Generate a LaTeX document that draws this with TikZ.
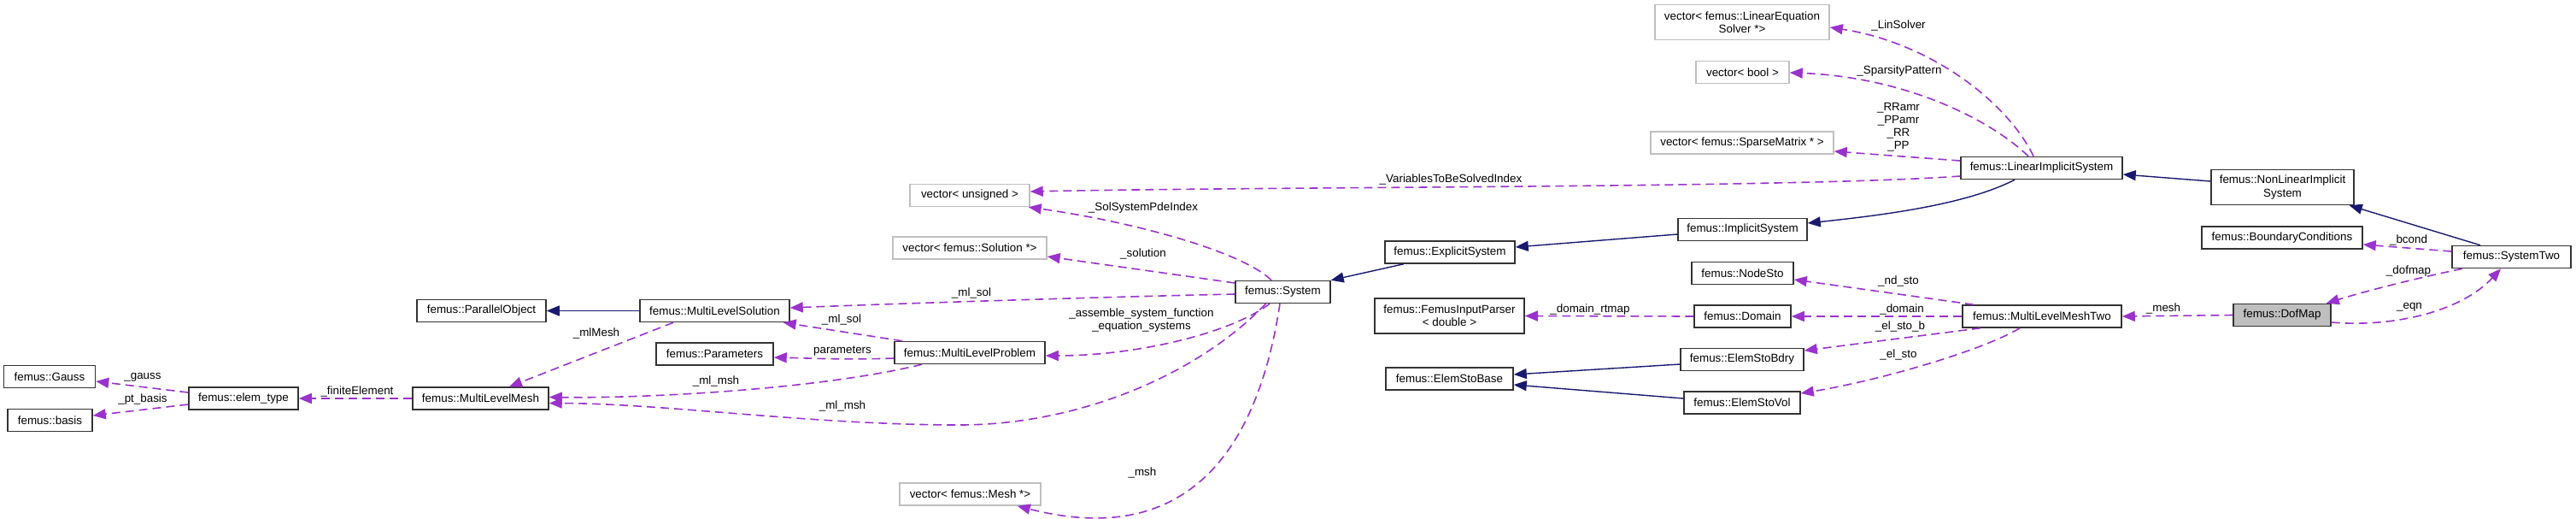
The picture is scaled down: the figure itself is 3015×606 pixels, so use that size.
\documentclass[tikz,border=0pt]{standalone}
\usepackage{fontspec}
\setmainfont{Liberation Sans}
\usetikzlibrary{arrows.meta}
\definecolor{usecol}{RGB}{154,50,205}
\definecolor{inhcol}{RGB}{25,25,112}
\definecolor{tplgray}{RGB}{191,191,191}
\begin{document}
\begin{tikzpicture}[x=1pt,y=-1pt,
  font=\fontsize{13.4}{15.2}\selectfont,
  cls/.style={draw=black!80, line width=1.5pt, fill=white, inner sep=0pt, minimum height=26pt, align=center},
  tpl/.style={cls, draw=tplgray},
  sel/.style={cls, fill=tplgray},
  usel/.style={draw=usecol, line width=1.6pt, dash pattern=on 10pt off 6pt, -{Triangle[length=15pt,width=12pt]}},
  inh/.style={draw=inhcol, line width=1.4pt, -{Triangle[length=15pt,width=12pt]}},
  lbl/.style={inner sep=0pt, align=center, font=\fontsize{13.4}{15}\selectfont}]
\useasboundingbox (0,0) rectangle (3015,606);
% nodes
\node[cls, minimum width=107pt] (gauss) at (58,440.5) {femus::Gauss};
\node[cls, minimum width=99pt] (basis) at (58.5,491.5) {femus::basis};
\node[cls, minimum width=128pt] (elemtype) at (285,466) {femus::elem\_type};
\node[cls, minimum width=159pt] (mlm) at (562.5,466) {femus::MultiLevelMesh};
\node[cls, minimum width=151pt] (parallel) at (563.5,363.5) {femus::ParallelObject};
\node[cls, minimum width=175pt] (mls) at (836.5,363.5) {femus::MultiLevelSolution};
\node[cls, minimum width=137pt] (params) at (836.5,414) {femus::Parameters};
\node[cls, minimum width=176pt] (mlp) at (1135,412.5) {femus::MultiLevelProblem};
\node[tpl, minimum width=140pt] (vecuns) at (1135,228.5) {vector< unsigned >};
\node[tpl, minimum width=180pt] (vecsol) at (1135,290) {vector< femus::Solution *>};
\node[tpl, minimum width=165pt] (vecmesh) at (1135.5,578) {vector< femus::Mesh *>};
\node[cls, minimum width=111pt] (system) at (1501.5,341.5) {femus::System};
\node[cls, minimum width=152pt] (explicit) at (1697,295) {femus::ExplicitSystem};
\node[cls, minimum width=175pt, minimum height=41pt] (fip) at (1696.5,369.5) {femus::FemusInputParser\\< double >};
\node[cls, minimum width=149pt] (esbase) at (1696.5,443) {femus::ElemStoBase};
\node[tpl, minimum width=204pt, minimum height=41pt] (veclin) at (2039,26) {vector< femus::LinearEquation\\Solver *>};
\node[tpl, minimum width=109pt] (vecbool) at (2039.5,84.5) {vector< bool >};
\node[tpl, minimum width=214pt] (vecsparse) at (2039,167) {vector< femus::SparseMatrix * >};
\node[cls, minimum width=151pt] (implicit) at (2039.5,268.5) {femus::ImplicitSystem};
\node[cls, minimum width=119pt] (nodesto) at (2039.5,319.5) {femus::NodeSto};
\node[cls, minimum width=113pt] (domain) at (2039.5,370) {femus::Domain};
\node[cls, minimum width=144pt] (esbdry) at (2039,420.5) {femus::ElemStoBdry};
\node[cls, minimum width=136pt] (esvol) at (2039,471) {femus::ElemStoVol};
\node[cls, minimum width=189pt] (lis) at (2389.5,196.5) {femus::LinearImplicitSystem};
\node[cls, minimum width=186pt] (mlmtwo) at (2390,370) {femus::MultiLevelMeshTwo};
\node[cls, minimum width=167pt, minimum height=41pt] (nl) at (2671.5,219) {femus::NonLinearImplicit\\System};
\node[cls, minimum width=188pt] (bc) at (2671,278) {femus::BoundaryConditions};
\node[sel, minimum width=114pt] (dofmap) at (2671,368.5) {femus::DofMap};
\node[cls, minimum width=139pt] (systwo) at (2939.5,300.5) {femus::SystemTwo};
% usage edges
\draw[usel] ([shift={(0,-7)}]elemtype.west) -- ([shift={(0,5.5)}]gauss.east);
\node[lbl] (lgauss) at (167,441) {\_gauss};
\draw[usel] ([shift={(0,7)}]elemtype.west) -- ([shift={(0,-5.5)}]basis.east);
\node[lbl] (lptbasis) at (167,467) {\_pt\_basis};
\draw[usel] (mlm.west) -- (elemtype.east);
\node[lbl] (lfinite) at (418,458) {\_finiteElement};
\draw[usel] ([shift={(-48.5,0)}]mls.south) -- ([shift={(33.5,0)}]mlm.north);
\node[lbl] (lmlmesh) at (698,390) {\_mlMesh};
\draw[usel] ([shift={(-79,0)}]mlp.north) -- ([shift={(-8,0)}]mls.south east);
\node[lbl] (lmlsol) at (985,374) {\_ml\_sol};
\draw[usel] ([shift={(0,6.5)}]mlp.west) .. controls (990,421) and (950,419) .. ([shift={(0,4)}]params.east);
\node[lbl] (lparams) at (986,411) {parameters};
\draw[usel] ([shift={(-56,0)}]mlp.south) .. controls (960,455) and (760,466) .. ([shift={(0,-1.5)}]mlm.east);
\node[lbl] (lmlmsha) at (838,446) {\_ml\_msh};
\draw[usel] ([shift={(-20,0)}]system.south) .. controls (1400,440) and (1260,497) .. (1123,497) .. controls (950,497) and (780,472) .. ([shift={(0,5.5)}]mlm.east);
\node[lbl] (lmlmshb) at (986,475) {\_ml\_msh};
\draw[usel] ([shift={(0,2.5)}]system.west) .. controls (1300,347) and (1050,355) .. ([shift={(0,-3.5)}]mls.east);
\node[lbl] (lmlsolb) at (1137,343) {\_ml\_sol};
\draw[usel] ([shift={(-15.5,0)}]system.south) .. controls (1440,390) and (1330,416) .. ([shift={(0,3.5)}]mlp.east);
\node[lbl] (lassemble) at (1336,374.5) {\_assemble\_system\_function\\\_equation\_systems};
\draw[usel] ([shift={(0,-10.5)}]system.west) -- ([shift={(0,10)}]vecsol.east);
\node[lbl] (lsolution) at (1338,297) {\_solution};
\draw[usel] ([shift={(-13.5,0)}]system.north) .. controls (1455,295) and (1330,260) .. ([shift={(-2,0)}]vecuns.south east);
\node[lbl] (lsolpde) at (1338,243) {\_SolSystemPdeIndex};
\draw[usel] ([shift={(-3.5,0)}]system.south) .. controls (1470,540) and (1380,640) .. ([shift={(-28,0)}]vecmesh.south east);
\node[lbl] (lmsh) at (1337,553) {\_msh};
\draw[usel] ([shift={(0,9.5)}]lis.west) .. controls (2100,220) and (1500,218) .. ([shift={(0,-4.5)}]vecuns.east);
\node[lbl] (lvars) at (1698,210) {\_VariablesToBeSolvedIndex};
\draw[usel] ([shift={(0,-8.5)}]lis.west) -- ([shift={(0,10)}]vecsparse.east);
\node[lbl] (lrr) at (2222,149) {\_RRamr\\\_PPamr\\\_RR\\\_PP};
\draw[usel] ([shift={(-15.5,0)}]lis.north) .. controls (2330,140) and (2230,90) .. ([shift={(0,0.5)}]vecbool.east);
\node[lbl] (lsparsity) at (2223,83) {\_SparsityPattern};
\draw[usel] ([shift={(-9.5,0)}]lis.north) .. controls (2350,120) and (2260,50) .. ([shift={(0,6)}]veclin.east);
\node[lbl] (llinsolver) at (2222,30) {\_LinSolver};
\draw[usel] ([shift={(-80,0)}]mlmtwo.north) -- ([shift={(0,7.5)}]nodesto.east);
\node[lbl] (lndsto) at (2222,329) {\_nd\_sto};
\draw[usel] (mlmtwo.west) -- (domain.east);
\node[lbl] (ldomain) at (2226,362) {\_domain};
\draw[usel] (domain.west) -- (fip.east);
\node[lbl] (ldomainrt) at (1861,362) {\_domain\_rtmap};
\draw[usel] ([shift={(-72,0)}]mlmtwo.south) -- ([shift={(0,-10.5)}]esbdry.east);
\node[lbl] (lelstob) at (2224,382) {\_el\_sto\_b};
\draw[usel] ([shift={(-26,0)}]mlmtwo.south) .. controls (2320,410) and (2200,445) .. ([shift={(0,-11)}]esvol.east);
\node[lbl] (lelsto) at (2222,415) {\_el\_sto};
\draw[usel] (dofmap.west) -- (mlmtwo.east);
\node[lbl] (lmesh) at (2532,361) {\_mesh};
\draw[usel] ([shift={(-57.5,0)}]systwo.south) .. controls (2830,325) and (2770,340) .. ([shift={(-6,0)}]dofmap.north east);
\node[lbl] (ldofmap) at (2819,317) {\_dofmap};
\draw[usel] ([shift={(0,-6.5)}]systwo.west) -- ([shift={(0,8)}]bc.east);
\node[lbl] (lbcond) at (2819,281) {\_bcond};
\draw[usel] ([shift={(0,8.5)}]dofmap.east) .. controls (2800,383) and (2880,365) .. ([shift={(-12.5,0)}]systwo.south);
\node[lbl] (leqn) at (2820,359) {\_eqn};
% inheritance edges
\draw[inh] (mls.west) -- (parallel.east);
\draw[inh] ([shift={(-54,0)}]explicit.south) -- (system.north east);
\draw[inh] ([shift={(0,5.5)}]implicit.west) -- ([shift={(0,-6)}]explicit.east);
\draw[inh] ([shift={(-31.5,0)}]lis.south) .. controls (2300,240) and (2200,252) .. ([shift={(0,-7.5)}]implicit.east);
\draw[inh] ([shift={(0,-7)}]nl.west) -- ([shift={(0,7.5)}]lis.east);
\draw[inh] ([shift={(-36.5,0)}]systwo.north) -- ([shift={(-6,0)}]nl.south east);
\draw[inh] ([shift={(0,5.5)}]esbdry.west) -- ([shift={(0,-5)}]esbase.east);
\draw[inh] ([shift={(0,-5)}]esvol.west) -- ([shift={(0,7)}]esbase.east);
\end{tikzpicture}
\end{document}
